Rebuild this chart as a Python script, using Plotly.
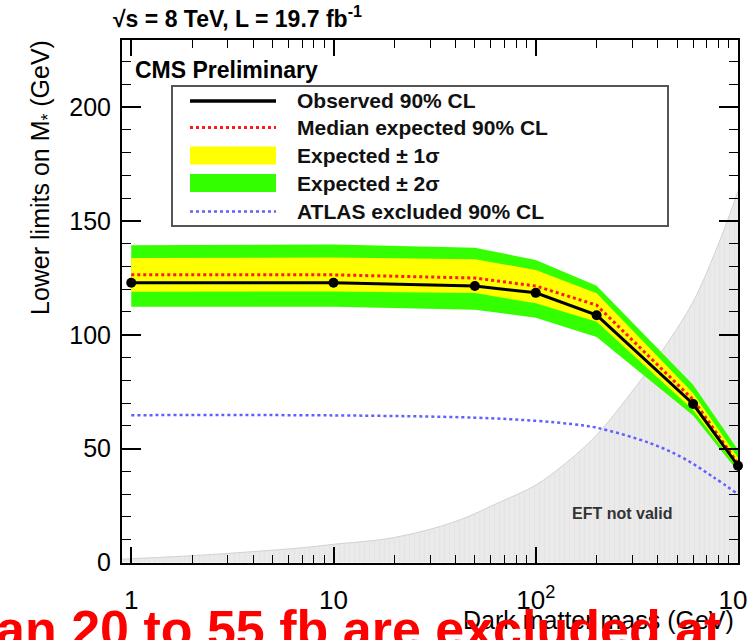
import math
import plotly.graph_objects as go

# ---------------- data ----------------
dm_mass = [1, 10, 50, 100, 200, 600, 1000]
observed = [122.8, 122.8, 121.4, 118.4, 108.6, 69.6, 42.5]
expected = [126.3, 126.3, 124.9, 121.4, 113.0, 71.5, 43.5]
one_sigma_up = [133.7, 133.9, 133.2, 128.4, 118.2, 74.3, 46.0]
one_sigma_dn = [118.9, 119.0, 118.3, 113.8, 105.7, 67.0, 41.5]
two_sigma_up = [139.3, 139.6, 138.2, 132.8, 121.5, 78.0, 49.5]
two_sigma_dn = [112.3, 112.3, 111.0, 107.5, 99.0, 64.5, 40.0]

atlas_mass = [1, 10, 50, 100, 150, 200, 370, 540, 750, 1000]
atlas_limit = [64.7, 64.6, 63.6, 62.2, 60.8, 59.2, 52.3, 45.7, 37.7, 30.0]

eft_mass = [0.9, 1, 2, 4, 7, 10, 20, 40, 67, 100, 140, 200, 330, 445, 600, 815, 1000]
eft_limit = [1.5, 1.7, 3.0, 4.8, 6.5, 8.0, 11.0, 18.0, 26.7, 34.0, 43.5, 56.0, 80.0, 96.0, 114.5, 141.6, 163.0]

x_tickvals = [1, 10, 100, 1000]
x_ticktext = ["1", "10", "10<sup>2</sup>", "10<sup>3</sup>"]
y_tickvals = [0, 50, 100, 150, 200]

legend_labels = ["Observed 90% CL", "Median expected 90% CL",
                 "Expected \u00b1 1\u03c3", "Expected \u00b1 2\u03c3",
                 "ATLAS excluded 90% CL"]

# ---------------- figure ----------------
W, H = 747, 640
L, R, T, B = 122, 9, 40, 77
PW, PH = W - L - R, H - T - B


def px(x):
    return (x - L) / PW


def py(y):
    return (H - B - y) / PH


fig = go.Figure()

# EFT not valid region
fig.add_trace(go.Scatter(
    x=eft_mass, y=eft_limit, mode="lines", fill="tozeroy",
    line=dict(color="#d2d2d2", width=1, shape="spline"),
    fillcolor="#e8e8e8",
    fillpattern=dict(shape="|", bgcolor="#eaeaea", fgcolor="#dddddd",
                     size=5, solidity=0.2),
    hoverinfo="skip", showlegend=False))

# 2 sigma band
fig.add_trace(go.Scatter(
    x=dm_mass + dm_mass[::-1], y=two_sigma_up + two_sigma_dn[::-1],
    fill="toself", mode="lines", line=dict(width=0, color="#33ff00"),
    fillcolor="#33ff00", showlegend=False))
# 1 sigma band
fig.add_trace(go.Scatter(
    x=dm_mass + dm_mass[::-1], y=one_sigma_up + one_sigma_dn[::-1],
    fill="toself", mode="lines", line=dict(width=0, color="#ffff00"),
    fillcolor="#ffff00", showlegend=False))

# ATLAS
fig.add_trace(go.Scatter(
    x=atlas_mass, y=atlas_limit, mode="lines",
    line=dict(color="#6060ff", width=2.5, dash="dot", shape="spline"),
    showlegend=False))
# expected
fig.add_trace(go.Scatter(
    x=dm_mass, y=expected, mode="lines",
    line=dict(color="#ff1a1a", width=3, dash="dot"), showlegend=False))
# observed
fig.add_trace(go.Scatter(
    x=dm_mass, y=observed, mode="lines+markers",
    line=dict(color="black", width=3),
    marker=dict(color="black", size=10), cliponaxis=False,
    showlegend=False))

font_main = "Liberation Sans, Arial, Helvetica, sans-serif"

fig.update_xaxes(
    type="log", range=[math.log10(0.9), 3.0],
    tickvals=x_tickvals, ticktext=x_ticktext,
    ticks="inside", ticklen=16, tickwidth=1.5, tickcolor="black",
    minor=dict(tickvals=[2, 3, 4, 5, 6, 7, 8, 9, 20, 30, 40, 50, 60, 70, 80, 90,
                         200, 300, 400, 500, 600, 700, 800, 900],
               ticks="inside", ticklen=8, tickcolor="black", tickwidth=1,
               showgrid=False),
    showline=True, linecolor="black", linewidth=2, mirror="allticks",
    showgrid=False, zeroline=False,
    tickfont=dict(family=font_main, size=26, color="black"),
    ticklabelstandoff=13, ticklabeloverflow="allow", automargin=False,
)
fig.update_yaxes(
    range=[-0.2, 229.4],
    tickvals=y_tickvals,
    ticks="inside", ticklen=19, tickwidth=1.5, tickcolor="black",
    minor=dict(dtick=10, ticks="inside", ticklen=9, tickcolor="black",
               tickwidth=1, showgrid=False),
    showline=True, linecolor="black", linewidth=2, mirror="allticks",
    showgrid=False, zeroline=False,
    tickfont=dict(family=font_main, size=25, color="black"),
    ticklabelstandoff=4, automargin=False,
)

annotations = []
shapes = []

# header
annotations.append(dict(
    xref="paper", yref="paper", x=px(111), y=py(17), xanchor="left", yanchor="middle",
    text="<b>\u221as = 8 TeV, L = 19.7 fb<sup>-1</sup></b>", showarrow=False,
    font=dict(family=font_main, size=23, color="black")))
annotations.append(dict(
    xref="paper", yref="paper", x=px(133), y=py(70), xanchor="left", yanchor="middle",
    text="<b>CMS Preliminary</b>", showarrow=False,
    font=dict(family=font_main, size=23, color="black")))
annotations.append(dict(
    x=math.log10(267), y=21.5, xref="x", yref="y",
    text="<b>EFT not valid</b>", showarrow=False,
    font=dict(family=font_main, size=16, color="#333333")))

# axis titles
annotations.append(dict(
    xref="paper", yref="paper", x=px(42), y=py(178), xanchor="center", yanchor="middle",
    text="Lower limits on M<sub>*</sub> (GeV)", textangle=-90, showarrow=False,
    font=dict(family=font_main, size=25, color="black")))
annotations.append(dict(
    xref="paper", yref="paper", x=px(736), y=py(620), xanchor="right", yanchor="middle",
    text="Dark matter mass (GeV)", showarrow=False,
    font=dict(family=font_main, size=25, color="black")))

# legend box
shapes.append(dict(type="rect", xref="paper", yref="paper",
                   x0=px(172), x1=px(668), y0=py(226), y1=py(86),
                   line=dict(color="#555555", width=2), fillcolor="rgba(255,255,255,0)"))
rows = [101, 127.5, 155.5, 183, 211.5]
sx0, sx1, tx = px(190), px(276), px(295)
shapes.append(dict(type="line", xref="paper", yref="paper", x0=sx0, x1=sx1,
                   y0=py(rows[0]), y1=py(rows[0]), line=dict(color="black", width=3.5)))
shapes.append(dict(type="line", xref="paper", yref="paper", x0=sx0, x1=sx1,
                   y0=py(rows[1]), y1=py(rows[1]),
                   line=dict(color="#ff1a1a", width=3, dash="dot")))
shapes.append(dict(type="rect", xref="paper", yref="paper", x0=sx0, x1=sx1,
                   y0=py(rows[2] + 9), y1=py(rows[2] - 9), line=dict(width=0),
                   fillcolor="#ffff00"))
shapes.append(dict(type="rect", xref="paper", yref="paper", x0=sx0, x1=sx1,
                   y0=py(rows[3] + 9), y1=py(rows[3] - 9), line=dict(width=0),
                   fillcolor="#33ff00"))
shapes.append(dict(type="line", xref="paper", yref="paper", x0=sx0, x1=sx1,
                   y0=py(rows[4]), y1=py(rows[4]),
                   line=dict(color="#6060ff", width=2.5, dash="dot")))
for lab, ry in zip(legend_labels, rows):
    annotations.append(dict(
        xref="paper", yref="paper", x=tx, y=py(ry), xanchor="left", yanchor="middle",
        text="<b>" + lab + "</b>", showarrow=False,
        font=dict(family=font_main, size=21, color="#111111")))

# slide text overlapping at bottom
annotations.append(dict(
    xref="paper", yref="paper", x=px(-6), y=py(598), xanchor="left", yanchor="top",
    text="<b>an 20 to 55 fb are excluded at</b>", showarrow=False,
    font=dict(family=font_main, size=52, color="#ff0000")))

fig.update_layout(
    width=W, height=H,
    margin=dict(l=L, r=R, t=T, b=B, pad=0, autoexpand=False),
    paper_bgcolor="white", plot_bgcolor="white",
    annotations=annotations, shapes=shapes,
    showlegend=False,
    font=dict(family=font_main),
)

fig.write_html("out.html")
